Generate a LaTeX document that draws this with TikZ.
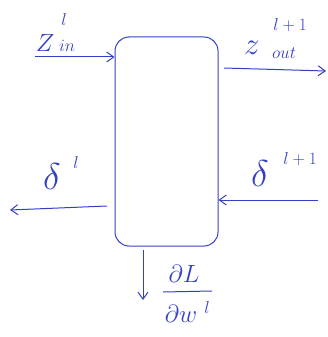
\documentclass[tikz,border=0pt]{standalone}
\usepackage{graphicx}
\usetikzlibrary{arrows.meta}
\definecolor{ink}{RGB}{52,64,196}
\begin{document}
\begin{tikzpicture}[x=1pt,y=-1pt,
  ink/.style={draw=ink,line width=1pt},
  arr/.style={ink,-{Straight Barb[length=7pt,width=10pt]}},
  big/.style={text=ink,inner sep=0pt,font=\fontsize{24}{28}\selectfont},
  sml/.style={text=ink,inner sep=0pt,font=\fontsize{17}{20}\selectfont}]
\useasboundingbox (0,0) rectangle (328,337);
\node[ink,rounded corners=14pt,minimum width=103pt,minimum height=209pt,inner sep=0pt] (blk) at (166.5,141.5) {};
% forward input
\coordinate (inS) at (35,57);
\draw[arr] (inS) -- (blk.west |- inS);
\node[big] (zin) at (45,43) {$Z$};
\node[sml] (zinsub) at (67,46) {$in$};
\node[sml] (zinsup) at (64,20) {$l$};
% forward output
\coordinate (outS) at (224,68);
\coordinate (outE) at (326,71);
\draw[arr] (outS) -- (outE);
\node[big] (zout) at (252,48) {\scalebox{1.25}{$z$}};
\node[sml] (zoutsub) at (284,53) {$out$};
\node[sml] (zoutsup) at (290,25) {$l+1$};
% backward output
\coordinate (dlE) at (10,210);
\draw[arr] (107,206) -- (dlE);
\node[big] (dl) at (52,177) {\scalebox{1.5}{$\delta$}};
\node[sml] (dlsup) at (76,162) {$l$};
% backward input
\coordinate (dinS) at (318,200);
\draw[arr] (dinS) -- (blk.east |- dinS);
\node[big] (dlp) at (260,174) {\scalebox{1.5}{$\delta$}};
\node[sml] (dlpsup) at (300,159) {$l+1$};
% gradient
\coordinate (gS) at (143,250);
\coordinate (gE) at (143,300);
\draw[arr] (gS) -- (gE);
\node[big] (gnum) at (184,274) {$\partial L$};
\coordinate (barL) at (163,292);
\coordinate (barR) at (212,291);
\draw[ink] (barL) -- (barR);
\node[big] (gden) at (181,314) {$\partial w$};
\node[sml] (gsup) at (207,307) {$l$};
\end{tikzpicture}
\end{document}
